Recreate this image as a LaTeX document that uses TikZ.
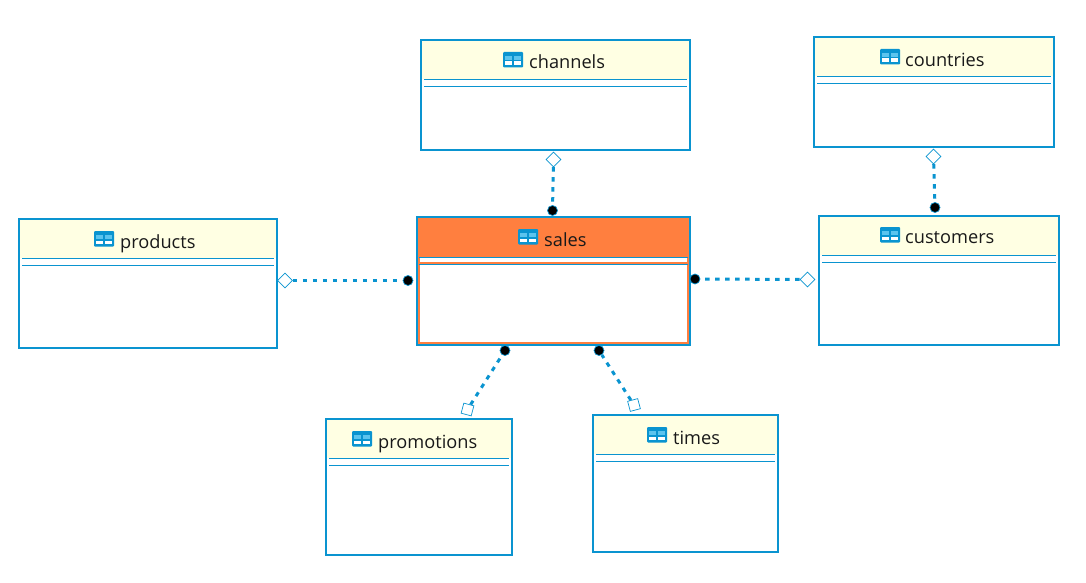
\documentclass[tikz,border=0pt]{standalone}
\usepackage{fontspec}
\setmainfont{Open Sans}
\usetikzlibrary{shapes.geometric,calc}
\definecolor{edgeblue}{HTML}{0A94D0}
\definecolor{headfill}{HTML}{FFFFE3}
\definecolor{salesfill}{HTML}{FF7F3F}
\definecolor{iconlight}{HTML}{5CC4EE}
\tikzset{
  x=1pt,y=-1pt,
  tablebox/.style={draw=edgeblue,line width=2pt,inner sep=0pt,outer sep=0pt},
  sep/.style={draw=edgeblue,line width=1pt},
  titletext/.style={font=\fontsize{18.2pt}{20pt}\selectfont,text=black!90,anchor=base west,inner sep=0pt},
  link/.style={draw=edgeblue,line width=3pt,dash pattern=on 4.5pt off 5.5pt},
  solid end/.style={circle,fill=black,draw=edgeblue,line width=0.7pt,minimum size=10pt,inner sep=0pt},
  open end/.style={diamond,aspect=1,draw=edgeblue,fill=white,line width=0.7pt,minimum size=15pt,inner sep=0pt},
}
\newcommand{\tblicon}[2]{%
  \fill[edgeblue,rounded corners=1pt] (#1,#2) rectangle ++(20,15.5);
  \fill[iconlight] (#1+2,#2+4) rectangle ++(7,4);
  \fill[iconlight] (#1+11,#2+4) rectangle ++(7,4);
  \fill[white] (#1+2,#2+9.5) rectangle ++(7,3.5);
  \fill[white] (#1+11,#2+9.5) rectangle ++(7,3.5);
}
% name, left, top, right, bottom, header fill, (unused), icon x, icon y
\newcommand{\tbl}[9]{%
  \fill[#6] (#2,#3) rectangle (#4,#3+39);
  \draw[sep] (#2+3,#3+39.5) -- (#4-3,#3+39.5);
  \draw[sep] (#2+3,#3+46.5) -- (#4-3,#3+46.5);
  \node[tablebox,minimum width=#4pt-#2pt,minimum height=#5pt-#3pt,anchor=north west] (#1) at (#2,#3) {};
  \tblicon{#8}{#9}
}
\begin{document}
\begin{tikzpicture}
\useasboundingbox (0,0) rectangle (1086,583);
\fill[white] (0,0) rectangle (1086,583);
\tbl{channels}{421}{40}{690}{150}{headfill}{}{503}{52}
\node[titletext] (tchannels) at (529,68.5) {channels};
\tbl{countries}{814}{37}{1054}{147}{headfill}{}{880}{49}
\node[titletext] (tcountries) at (905,66.3) {countries};
\tbl{products}{19}{219}{277}{348}{headfill}{}{94}{231}
\node[titletext] (tproducts) at (120,248) {products};
\tbl{customers}{819}{216}{1059}{345}{headfill}{}{880}{227}
\node[titletext] (tcustomers) at (905,243.2) {customers};
\tbl{promotions}{326}{419}{512}{555}{headfill}{}{352}{431}
\node[titletext] (tpromotions) at (378,448) {promotions};
\tbl{times}{593}{415}{778}{552}{headfill}{}{647}{427}
\node[titletext] (ttimes) at (673,444.5) {times};
% sales
\fill[salesfill] (417,217) rectangle (690,257);
\draw[salesfill,line width=1.6pt] (418.8,257) -- (418.8,342.7) -- (688.2,342.7) -- (688.2,257);
\draw[sep] (419,257.5) -- (688,257.5);
\draw[salesfill,line width=1.2pt] (419,263) -- (688,263);
\draw[sep] (419,264.5) -- (688,264.5);
\node[tablebox,minimum width=273pt,minimum height=127.5pt,anchor=north west] (sales) at (417,217) {};
\tblicon{518}{229}
\node[titletext] (tsales) at (544,246.5) {sales};
% connector ends
\node[open end] (d1) at (553.5,159.5) {};
\node[solid end] (c1) at (552.5,210.5) {};
\node[open end] (d2) at (933.5,156.5) {};
\node[solid end] (c2) at (935,207.5) {};
\node[open end] (d3) at (285,280.5) {};
\node[solid end] (c3) at (408,280.5) {};
\node[open end] (d4) at (807.5,279.5) {};
\node[solid end] (c4) at (695,279) {};
\node[open end,rotate=30] (d5) at (467.5,409.5) {};
\node[solid end] (c5) at (505,350.5) {};
\node[open end,rotate=-30] (d6) at (634,405) {};
\node[solid end] (c6) at (599,350.5) {};
\draw[link] (d1) -- (c1);
\draw[link] (d2) -- (c2);
\draw[link] (d3) -- (c3);
\draw[link] (d4) -- (c4);
\draw[link] (d5) -- (c5);
\draw[link] (d6) -- (c6);
\end{tikzpicture}
\end{document}
